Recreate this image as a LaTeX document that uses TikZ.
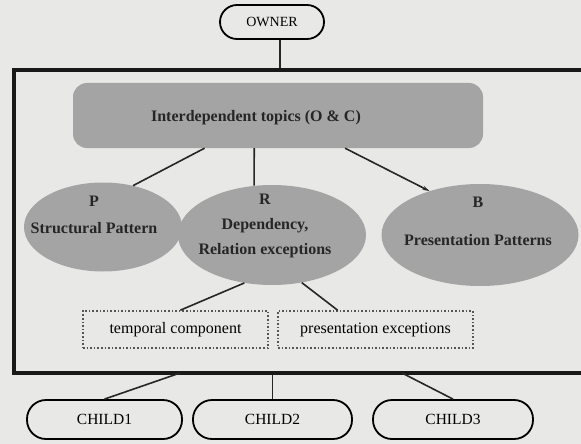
\documentclass[tikz,border=0pt]{standalone}
\usepackage{fontspec}
\setmainfont{Liberation Serif}
\usetikzlibrary{shapes.geometric,arrows.meta}

\definecolor{paper}{HTML}{E8E8E6}
\definecolor{halftone}{HTML}{A4A4A4}
\definecolor{dotline}{HTML}{555555}

\tikzset{
  pill/.style={draw=black,line width=1.8pt,rounded corners=17pt,inner sep=0pt,
    minimum width=104pt,minimum height=34pt,font=\fontsize{14}{16}\selectfont},
  kid/.style={pill,rounded corners=19pt,minimum height=39pt,font=\fontsize{15.5}{18}\selectfont},
  blob/.style={ellipse,fill=halftone,inner sep=0pt},
  blobtxt/.style={align=center,inner sep=0pt,text=black!85,font=\fontsize{16}{25}\selectfont\bfseries},
  dotbox/.style={draw=dotline,dotted,line width=1.6pt,inner sep=0pt,minimum height=37pt,
    font=\fontsize{16}{18}\selectfont},
  link/.style={line width=1.6pt,black!85}
}

\begin{document}
\begin{tikzpicture}[x=1pt,y=-1pt]
\useasboundingbox (0,0) rectangle (581,444);
\fill[paper] (0,0) rectangle (581,444);

% owner and the group frame
\node[pill] (owner) at (272,22) {OWNER};
\node[draw=black!90,line width=4pt,inner sep=0pt,minimum width=600pt,minimum height=303pt] (grp) at (314,221.5) {};

% topics bar
\node[fill=halftone,rounded corners=14pt,minimum width=410pt,minimum height=65pt] (topics) at (278,115.5) {};
\node[blobtxt] (topicstxt) at (256,118) {Interdependent topics (O \& C)};

% the three patterns
\node[blob,minimum width=158pt,minimum height=89pt] (pat) at (103,227) {};
\node[blob,minimum width=188pt,minimum height=100pt] (rel) at (272,235) {};
\node[blob,minimum width=197pt,minimum height=102pt] (pres) at (480,235) {};
\node[blobtxt,line width=0pt,font=\fontsize{16}{27}\selectfont\bfseries] (pattxt) at (94,215) {P\\Structural Pattern};
\node[blobtxt] (reltxt) at (265,226) {R\\Dependency,\\Relation exceptions};
\node[blobtxt,font=\fontsize{16}{27}\selectfont\bfseries] (prestxt) at (478,221) {B\\[11pt]Presentation Patterns};

% exceptions
\node[dotbox,minimum width=185pt] (temporal) at (175.5,329.5) {temporal component};
\node[dotbox,minimum width=195pt] (presexc) at (375.5,329.5) {presentation exceptions};

% children
\node[kid,minimum width=155pt] (child1) at (104.5,419.5) {CHILD1};
\node[kid,minimum width=159pt] (child2) at (272.5,419.5) {CHILD2};
\node[kid,minimum width=160pt] (child3) at (453,419.5) {CHILD3};
\coordinate (j1) at (180,373);
\coordinate (j3) at (402,373);

% connectors
\draw[link] ([xshift=8pt]owner.south) -- ([xshift=8pt]owner.south |- grp.north);
\draw[link] (topics.-156.6) -- (pat.54);
\draw[link] (topics.-126.4) -- (rel.110);
\draw[link,-{Stealth[length=7pt,width=4pt]}] (topics.-26.9) -- (pres.139);
\draw[link] (rel.-120.5) -- (temporal.76);
\draw[link] (rel.-58.7) -- (presexc.153.7);
\draw[link] (j1) -- (child1.north);
\draw[link] (child2.north |- grp.south) -- (child2.north);
\draw[link] (j3) -- (child3.north);
\end{tikzpicture}
\end{document}
